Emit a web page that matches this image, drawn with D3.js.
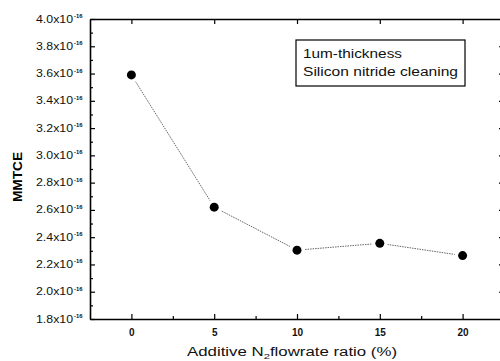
<!DOCTYPE html>
<html><head><meta charset="utf-8">
<script src="https://cdn.jsdelivr.net/npm/d3@7"></script>
<style>body{margin:0;background:#fff}svg{display:block}</style>
</head><body>
<svg id="c" width="500" height="361"></svg>
<script>
const xValues = [0, 5, 10, 15, 20];
const mmtceValues = [3.59, 2.62, 2.305, 2.355, 2.265];
const yTicks = [1.8, 2.0, 2.2, 2.4, 2.6, 2.8, 3.0, 3.2, 3.4, 3.6, 3.8, 4.0];
const yTickLabels = ["1.8","2.0","2.2","2.4","2.6","2.8","3.0","3.2","3.4","3.6","3.8","4.0"];
const xTicks = [0, 5, 10, 15, 20];
const xTickLabels = ["0", "5", "10", "15", "20"];
const legendLines = ["1um-thickness", "Silicon nitride cleaning"];

const svg = d3.select("#c");
const L = 90, R = 504, T = 19, B = 319;
const x = d3.scaleLinear().domain([-2.5, 22.5]).range([L, R]);
const y = d3.scaleLinear().domain([1.8, 4.0]).range([B, T]);
const font = "Arial, 'Liberation Sans', sans-serif";

// axes with inward ticks
const gB = svg.append("g").attr("transform", `translate(0,${B})`)
  .call(d3.axisBottom(x).tickValues(xTicks).tickSizeInner(-5).tickSizeOuter(0).tickFormat((d,i)=>xTickLabels[i]).tickPadding(10));
const gBm = svg.append("g").attr("transform", `translate(0,${B})`)
  .call(d3.axisBottom(x).tickValues([2.5,7.5,12.5,17.5]).tickSizeInner(-3).tickSizeOuter(0).tickFormat(""));
gBm.select(".domain").remove();
const gT = svg.append("g").attr("transform", `translate(0,${T})`)
  .call(d3.axisTop(x).tickValues(xTicks).tickSizeInner(-5).tickSizeOuter(0).tickFormat(""));
const gL = svg.append("g").attr("transform", `translate(${L},0)`)
  .call(d3.axisLeft(y).tickValues(yTicks).tickSizeInner(-5).tickSizeOuter(0).tickFormat(""));
const gLm = svg.append("g").attr("transform", `translate(${L},0)`)
  .call(d3.axisLeft(y).tickValues(d3.range(1.9, 4.0, 0.2)).tickSizeInner(-3).tickSizeOuter(0).tickFormat(""));
gLm.select(".domain").remove();
const gR = svg.append("g").attr("transform", `translate(${R},0)`)
  .call(d3.axisRight(y).tickValues(yTicks).tickSizeInner(-5).tickSizeOuter(0).tickFormat(""));

svg.selectAll(".domain").attr("stroke", "#000").attr("stroke-width", 1.6);
svg.selectAll(".tick line").attr("stroke", "#000").attr("stroke-width", 1.2);
gB.selectAll(".tick text").attr("font-family", font).attr("font-size", 10).attr("font-weight", "bold").attr("fill", "#111");

// y tick labels with superscript
const yl = svg.append("g");
yTicks.forEach((v, i) => {
  yl.append("text").attr("x", 36).attr("y", y(v) + 3.5)
    .attr("font-family", font).attr("font-size", 10).attr("fill", "#111")
    .attr("textLength", 37).attr("lengthAdjust", "spacingAndGlyphs")
    .text(yTickLabels[i] + "x10");
  yl.append("text").attr("x", 74).attr("y", y(v) - 1)
    .attr("font-family", font).attr("font-size", 6).attr("font-weight", "bold").attr("fill", "#111")
    .attr("textLength", 8.5).attr("lengthAdjust", "spacingAndGlyphs")
    .text("-16");
});

// y label
svg.append("text").attr("transform", `translate(22,177) rotate(-90)`)
  .attr("text-anchor", "middle").attr("font-family", font).attr("font-size", 12.5)
  .attr("font-weight", "bold").attr("textLength", 50).attr("lengthAdjust", "spacingAndGlyphs")
  .text("MMTCE");

// x label
const xl = svg.append("text").attr("x", 187).attr("y", 356)
  .attr("font-family", font).attr("font-size", 12).attr("fill", "#111")
  .attr("textLength", 210).attr("lengthAdjust", "spacingAndGlyphs");
xl.append("tspan").text("Additive N");
xl.append("tspan").attr("font-size", 8).attr("dy", 3).text("2");
xl.append("tspan").attr("dy", -3).text("flowrate ratio (%)");

// data line
const pts = xValues.map((v, i) => [x(v), y(mmtceValues[i])]);
svg.append("path").attr("d", d3.line()(pts)).attr("fill", "none")
  .attr("stroke", "#666").attr("stroke-width", 1).attr("stroke-dasharray", "1.5,1");
svg.selectAll("circle.gap").data(pts).join("circle").attr("class","gap")
  .attr("cx", d => d[0]).attr("cy", d => d[1]).attr("r", 8).attr("fill", "#fff");
svg.selectAll("circle.pt").data(pts).join("circle").attr("class","pt")
  .attr("cx", d => d[0]).attr("cy", d => d[1]).attr("r", 4.5).attr("fill", "#000");

// legend box
svg.append("rect").attr("x", 296).attr("y", 40).attr("width", 169).attr("height", 46)
  .attr("fill", "#fff").attr("stroke", "#000").attr("stroke-width", 1.2);
const legendWidths = [99, 155];
legendLines.forEach((s, i) => {
  svg.append("text").attr("x", 303).attr("y", 58 + i * 18).attr("font-family", font)
    .attr("font-size", 12).attr("fill", "#111")
    .attr("textLength", legendWidths[i]).attr("lengthAdjust", "spacingAndGlyphs").text(s);
});
</script>
</body></html>
